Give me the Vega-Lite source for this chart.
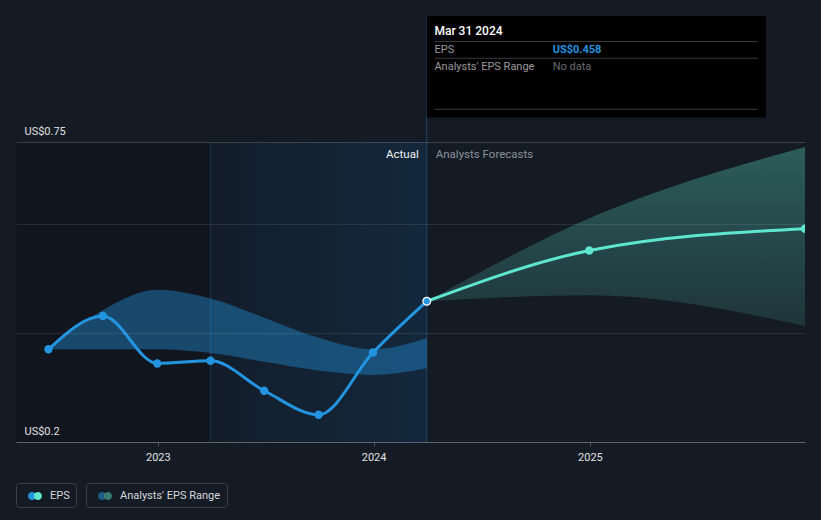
{
  "$schema": "https://vega.github.io/schema/vega-lite/v6.json",
  "width": 789,
  "height": 300,
  "autosize": {"type": "none"},
  "padding": {"left": 16, "top": 142, "right": 16, "bottom": 78},
  "background": "#151b25",
  "config": {"view": {"stroke": null}, "font": "Roboto"},
  "resolve": {"scale": {"color": "independent"}, "legend": {"color": "independent"}},
  "datasets": {
    "actual": [
      {"date": "2022-06-30", "eps": 0.370},
      {"date": "2022-09-30", "eps": 0.431},
      {"date": "2022-12-31", "eps": 0.344},
      {"date": "2023-03-31", "eps": 0.349},
      {"date": "2023-06-30", "eps": 0.294},
      {"date": "2023-09-30", "eps": 0.250},
      {"date": "2023-12-31", "eps": 0.364},
      {"date": "2024-03-31", "eps": 0.458}
    ],
    "range": [
      {"date": "2022-06-30", "low": 0.370, "high": 0.370},
      {"date": "2022-09-30", "low": 0.370, "high": 0.442},
      {"date": "2022-12-31", "low": 0.370, "high": 0.479},
      {"date": "2023-03-31", "low": 0.363, "high": 0.463},
      {"date": "2023-06-30", "low": 0.347, "high": 0.428},
      {"date": "2023-09-30", "low": 0.331, "high": 0.391},
      {"date": "2023-12-31", "low": 0.323, "high": 0.370},
      {"date": "2024-03-31", "low": 0.335, "high": 0.390}
    ],
    "forecast": [
      {"date": "2024-03-31", "eps": 0.458, "low": 0.458, "high": 0.458},
      {"date": "2024-12-31", "eps": 0.551, "low": 0.469, "high": 0.610},
      {"date": "2025-12-31", "eps": 0.591, "low": 0.413, "high": 0.741}
    ]
  },
  "layer": [
    {
      "data": {"values": [{}]},
      "mark": {"type": "rect", "color": "#11161e"},
      "encoding": {
        "x": {"datum": {"year": 2022, "month": 5, "date": 6, "utc": true}, "type": "temporal",
              "scale": {"type": "utc", "domain": [{"year": 2022, "month": 5, "date": 6, "utc": true}, {"year": 2025, "month": 12, "date": 31, "utc": true}]},
              "title": null},
        "x2": {"datum": {"year": 2023, "month": 3, "date": 31, "utc": true}}
      }
    },
    {
      "data": {"values": [{}]},
      "mark": {"type": "rect", "color": {"gradient": "linear", "x1": 0, "y1": 0, "x2": 1, "y2": 0, "stops": [{"offset": 0, "color": "#131d2a"}, {"offset": 1, "color": "#13283d"}]}},
      "encoding": {
        "x": {"datum": {"year": 2023, "month": 3, "date": 31, "utc": true}, "type": "temporal", "title": null},
        "x2": {"datum": {"year": 2024, "month": 3, "date": 31, "utc": true}}
      }
    },
    {
      "data": {"values": [{}]},
      "mark": {"type": "rule", "color": "#1b3650", "strokeWidth": 1},
      "encoding": {
        "x": {"datum": {"year": 2023, "month": 3, "date": 31, "utc": true}, "type": "temporal", "title": null}
      }
    },
    {
      "data": {"values": [{}]},
      "mark": {"type": "rule", "color": "#1f4767", "strokeWidth": 1},
      "encoding": {
        "x": {"datum": {"year": 2024, "month": 3, "date": 31, "utc": true}, "type": "temporal", "title": null},
        "y": {"datum": 0.2, "type": "quantitative", "title": null},
        "y2": {"datum": 0.981}
      }
    },
    {
      "data": {"name": "range"},
      "mark": {"type": "area", "interpolate": "monotone", "color": "#2394df", "fillOpacity": 0.4},
      "encoding": {
        "x": {"field": "date", "type": "temporal", "title": null,
              "axis": {"title": null, "grid": false, "format": "%Y",
                       "values": [{"year": 2023, "month": 1, "date": 1, "utc": true}, {"year": 2024, "month": 1, "date": 1, "utc": true}, {"year": 2025, "month": 1, "date": 1, "utc": true}],
                       "domainColor": "#4f555e", "tickColor": "#4f555e", "tickSize": 4,
                       "labelColor": "#e0e0e0", "labelFontSize": 11, "labelPadding": 5, "labelFlush": false}},
        "y": {"field": "low", "type": "quantitative", "title": null,
              "scale": {"domain": [0.2, 0.75], "nice": false, "zero": false},
              "axis": {"title": null, "values": [0.2, 0.4, 0.6, 0.75],
                       "labelExpr": "datum.value == 0.2 ? 'US$0.2' : (datum.value == 0.75 ? 'US$0.75' : '')",
                       "domain": false, "ticks": false, "grid": true,
                       "gridColor": {"condition": {"test": "datum.value == 0.75", "value": "rgba(255,255,255,0.17)"}, "value": "rgba(255,255,255,0.09)"},
                       "labelAlign": "left", "labelBaseline": "alphabetic", "labelPadding": -8, "labelOffset": -8,
                       "labelColor": "#e0e0e0", "labelFontSize": 11, "labelFlush": false, "zindex": 1}},
        "y2": {"field": "high"}
      }
    },
    {
      "data": {"name": "range"},
      "mark": {"type": "line", "opacity": 0},
      "encoding": {
        "x": {"field": "date", "type": "temporal", "title": null},
        "y": {"field": "high", "type": "quantitative", "title": null},
        "color": {"datum": "Analysts' EPS Range", "type": "nominal",
                 "scale": {"domain": ["Analysts' EPS Range"], "range": ["#2394df"]},
                 "legend": {"orient": "none", "legendX": 70, "legendY": 341, "title": null, "direction": "horizontal",
                            "strokeColor": "#3b4048", "cornerRadius": 3, "padding": 6,
                            "symbolType": "M-1,0a0.571,0.571 0 1,0 1.143,0a0.571,0.571 0 1,0 -1.143,0Z M-0.143,0a0.571,0.571 0 1,0 1.143,0a0.571,0.571 0 1,0 -1.143,0Z",
                            "symbolSize": 196, "symbolOffset": 6, "labelOffset": 8,
                            "labelColor": "#d5d8dc", "labelFontSize": 11, "labelFont": "Roboto",
                            "encode": {"symbols": {"update": {
                              "fill": {"value": {"gradient": "linear", "x1": 0, "y1": 0, "x2": 1, "y2": 0, "stops": [{"offset": 0, "color": "#1f5a88"}, {"offset": 0.45, "color": "#1f5a88"}, {"offset": 0.45, "color": "#3a7a74"}, {"offset": 1, "color": "#3a7a74"}]}},
                              "opacity": {"value": 1}, "fillOpacity": {"value": 1}, "strokeWidth": {"value": 0}}}}}}
      }
    },
    {
      "data": {"name": "forecast"},
      "mark": {"type": "area", "interpolate": "monotone",
               "color": {"gradient": "linear", "x1": 0, "y1": 0, "x2": 0, "y2": 1, "stops": [{"offset": 0, "color": "rgba(94,230,205,0.32)"}, {"offset": 1, "color": "rgba(94,230,205,0.13)"}]}},
      "encoding": {
        "x": {"field": "date", "type": "temporal", "title": null},
        "y": {"field": "low", "type": "quantitative", "title": null},
        "y2": {"field": "high"}
      }
    },
    {
      "data": {"name": "actual"},
      "mark": {"type": "line", "interpolate": "monotone", "strokeWidth": 3},
      "encoding": {
        "x": {"field": "date", "type": "temporal", "title": null},
        "y": {"field": "eps", "type": "quantitative", "title": null},
        "color": {"datum": "EPS", "type": "nominal",
                  "scale": {"domain": ["EPS"], "range": ["#2394df"]},
                  "legend": {"orient": "none", "legendX": 0, "legendY": 341, "title": null, "direction": "horizontal",
                             "strokeColor": "#3b4048", "cornerRadius": 3, "padding": 6,
                             "symbolType": "M-1,0a0.571,0.571 0 1,0 1.143,0a0.571,0.571 0 1,0 -1.143,0Z M-0.143,0a0.571,0.571 0 1,0 1.143,0a0.571,0.571 0 1,0 -1.143,0Z",
                             "symbolSize": 196, "symbolOffset": 6, "labelOffset": 8,
                             "labelColor": "#d5d8dc", "labelFontSize": 11, "labelFont": "Roboto",
                             "encode": {"symbols": {"update": {
                               "fill": {"value": {"gradient": "linear", "x1": 0, "y1": 0, "x2": 1, "y2": 0, "stops": [{"offset": 0, "color": "#2394df"}, {"offset": 0.45, "color": "#2394df"}, {"offset": 0.45, "color": "#5ee6cf"}, {"offset": 1, "color": "#5ee6cf"}]}},
                               "opacity": {"value": 1}, "fillOpacity": {"value": 1}, "strokeWidth": {"value": 0}}}}}}
      }
    },
    {
      "data": {"name": "forecast"},
      "mark": {"type": "line", "interpolate": "monotone", "strokeWidth": 3, "color": "#5ee6cf"},
      "encoding": {
        "x": {"field": "date", "type": "temporal", "title": null},
        "y": {"field": "eps", "type": "quantitative", "title": null}
      }
    },
    {
      "data": {"name": "actual"},
      "transform": [{"filter": "datum.eps != 0.458"}],
      "mark": {"type": "point", "filled": true, "size": 70, "opacity": 1, "color": "#2394df"},
      "encoding": {
        "x": {"field": "date", "type": "temporal", "title": null},
        "y": {"field": "eps", "type": "quantitative", "title": null}
      }
    },
    {
      "data": {"name": "forecast"},
      "transform": [{"filter": "datum.eps != 0.458"}],
      "mark": {"type": "point", "filled": true, "size": 70, "opacity": 1, "color": "#5ee6cf", "clip": true},
      "encoding": {
        "x": {"field": "date", "type": "temporal", "title": null},
        "y": {"field": "eps", "type": "quantitative", "title": null}
      }
    },
    {
      "data": {"name": "actual"},
      "transform": [{"filter": "datum.eps == 0.458"}],
      "mark": {"type": "point", "filled": true, "size": 60, "opacity": 1, "fill": "#2394df", "stroke": "#ffffff", "strokeWidth": 1.2},
      "encoding": {
        "x": {"field": "date", "type": "temporal", "title": null},
        "y": {"field": "eps", "type": "quantitative", "title": null}
      }
    },
    {
      "data": {"values": [{}]},
      "mark": {"type": "text", "text": "Actual", "align": "right", "baseline": "alphabetic", "dx": -8, "fontSize": 11.5, "color": "#f2f2f2"},
      "encoding": {
        "x": {"datum": {"year": 2024, "month": 3, "date": 31, "utc": true}, "type": "temporal", "title": null},
        "y": {"datum": 0.7205, "type": "quantitative", "title": null}
      }
    },
    {
      "data": {"values": [{}]},
      "mark": {"type": "text", "text": "Analysts Forecasts", "align": "left", "baseline": "alphabetic", "dx": 9, "fontSize": 11.5, "color": "#8b9099"},
      "encoding": {
        "x": {"datum": {"year": 2024, "month": 3, "date": 31, "utc": true}, "type": "temporal", "title": null},
        "y": {"datum": 0.7205, "type": "quantitative", "title": null}
      }
    },
    {
      "data": {"values": [{}]},
      "mark": {"type": "rect", "color": "#000000"},
      "encoding": {
        "x": {"datum": {"year": 2024, "month": 3, "date": 31, "utc": true}, "type": "temporal", "title": null},
        "x2": {"datum": {"year": 2025, "month": 10, "date": 26, "utc": true}},
        "y": {"datum": 0.981, "type": "quantitative", "title": null},
        "y2": {"datum": 0.795}
      }
    },
    {
      "data": {"values": [{"line": 0.9343}, {"line": 0.9035}, {"line": 0.81}]},
      "mark": {"type": "rule", "color": "#3a3a3a", "strokeWidth": 1},
      "encoding": {
        "x": {"datum": {"year": 2024, "month": 4, "date": 13, "utc": true}, "type": "temporal", "title": null},
        "x2": {"datum": {"year": 2025, "month": 10, "date": 12, "utc": true}},
        "y": {"field": "line", "type": "quantitative", "title": null}
      }
    },
    {
      "data": {"values": [{}]},
      "mark": {"type": "text", "text": "Mar 31 2024", "align": "left", "baseline": "alphabetic", "fontSize": 12, "fontWeight": 500, "color": "#ffffff"},
      "encoding": {
        "x": {"datum": {"year": 2024, "month": 4, "date": 13, "utc": true}, "type": "temporal", "title": null},
        "y": {"datum": 0.9462, "type": "quantitative", "title": null}
      }
    },
    {
      "data": {"values": [{}]},
      "mark": {"type": "text", "text": "EPS", "align": "left", "baseline": "alphabetic", "fontSize": 11, "color": "#9a9a9a"},
      "encoding": {
        "x": {"datum": {"year": 2024, "month": 4, "date": 13, "utc": true}, "type": "temporal", "title": null},
        "y": {"datum": 0.9132, "type": "quantitative", "title": null}
      }
    },
    {
      "data": {"values": [{}]},
      "mark": {"type": "text", "text": "US$0.458", "align": "left", "baseline": "alphabetic", "fontSize": 11, "fontWeight": "bold", "color": "#2394df"},
      "encoding": {
        "x": {"datum": {"year": 2024, "month": 10, "date": 30, "utc": true}, "type": "temporal", "title": null},
        "y": {"datum": 0.9132, "type": "quantitative", "title": null}
      }
    },
    {
      "data": {"values": [{}]},
      "mark": {"type": "text", "text": "Analysts' EPS Range", "align": "left", "baseline": "alphabetic", "fontSize": 11, "color": "#9a9a9a"},
      "encoding": {
        "x": {"datum": {"year": 2024, "month": 4, "date": 13, "utc": true}, "type": "temporal", "title": null},
        "y": {"datum": 0.8829, "type": "quantitative", "title": null}
      }
    },
    {
      "data": {"values": [{}]},
      "mark": {"type": "text", "text": "No data", "align": "left", "baseline": "alphabetic", "fontSize": 11, "color": "#6a6a6a"},
      "encoding": {
        "x": {"datum": {"year": 2024, "month": 10, "date": 30, "utc": true}, "type": "temporal", "title": null},
        "y": {"datum": 0.8829, "type": "quantitative", "title": null}
      }
    }
  ]
}
